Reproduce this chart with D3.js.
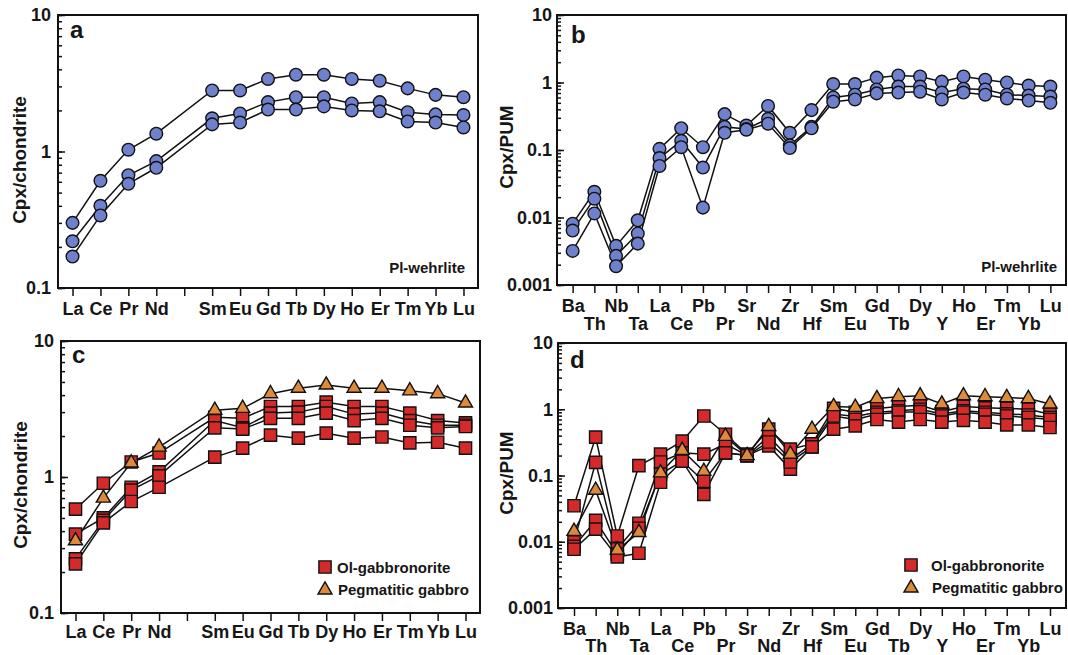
<!DOCTYPE html>
<html>
    <head>
        <meta charset="utf-8">
        <script type="text/javascript" src="https://d3js.org/d3.v7.min.js" charset="utf-8"></script>
        <style>
            body { margin: 0; background: #ffffff; }
            text { font-family: 'Liberation Sans', Arial, sans-serif; font-weight: bold; fill: #161616; }
        </style>
    </head>
    <body>
        <script>
            const WIDTH = 1068;
            const HEIGHT = 655;

            const LINE_COLOR = '#111111';
            const CIRCLE_COLOR = '#6f80cc';
            const SQUARE_COLOR = '#d42a2a';
            const TRIANGLE_COLOR = '#dd8a3a';

            const TICK_FONT = 18;

            // x categories
            const REE_AXIS = ['La', 'Ce', 'Pr', 'Nd', 'Pm', 'Sm', 'Eu', 'Gd', 'Tb', 'Dy', 'Ho', 'Er', 'Tm', 'Yb', 'Lu'];
            const REE = ['La', 'Ce', 'Pr', 'Nd', 'Sm', 'Eu', 'Gd', 'Tb', 'Dy', 'Ho', 'Er', 'Tm', 'Yb', 'Lu'];
            const SPIDER = ['Ba', 'Th', 'Nb', 'Ta', 'La', 'Ce', 'Pb', 'Pr', 'Sr', 'Nd', 'Zr', 'Hf', 'Sm', 'Eu',
                'Gd', 'Tb', 'Dy', 'Y', 'Ho', 'Er', 'Tm', 'Yb', 'Lu'];

            // y tick labels
            const REE_Y_TICKS = [0.1, 1, 10];
            const SPIDER_Y_TICKS = [0.001, 0.01, 0.1, 1, 10];

            // panel a : Pl-wehrlite, Cpx/chondrite
            const wehrliteRee1 = [0.30, 0.61, 1.03, 1.35, 2.8, 2.8, 3.4, 3.65, 3.65, 3.4, 3.3, 2.9, 2.6, 2.5];
            const wehrliteRee2 = [0.22, 0.40, 0.67, 0.85, 1.75, 1.9, 2.3, 2.5, 2.5, 2.25, 2.3, 1.94, 1.87, 1.85];
            const wehrliteRee3 = [0.17, 0.34, 0.58, 0.76, 1.58, 1.63, 2.03, 2.03, 2.14, 2.0, 1.97, 1.66, 1.63, 1.5];

            // panel b : Pl-wehrlite, Cpx/PUM
            const wehrliteSpider1 = [0.0081, 0.024, 0.0038, 0.0091, 0.104, 0.21, 0.11, 0.34, 0.23, 0.45, 0.18, 0.39,
                0.95, 0.95, 1.18, 1.27, 1.23, 1.03, 1.23, 1.1, 1.0, 0.90, 0.87];
            const wehrliteSpider2 = [0.0064, 0.019, 0.0027, 0.0058, 0.076, 0.137, 0.055, 0.22, 0.205, 0.29, 0.117, 0.22,
                0.60, 0.66, 0.79, 0.87, 0.87, 0.71, 0.81, 0.79, 0.66, 0.64, 0.62];
            const wehrliteSpider3 = [0.0032, 0.0115, 0.0019, 0.0041, 0.058, 0.11, 0.014, 0.18, 0.20, 0.245, 0.107, 0.21,
                0.52, 0.56, 0.69, 0.71, 0.73, 0.56, 0.71, 0.66, 0.58, 0.54, 0.50];

            // panel c : Ol-gabbronorite / pegmatitic gabbro, Cpx/chondrite
            const gabbronoriteRee1 = [0.58, 0.90, 1.29, 1.5, 2.75, 2.7, 3.3, 3.3, 3.55, 3.3, 3.3, 2.95, 2.6, 2.5];
            const gabbronoriteRee2 = [0.38, 0.50, 0.84, 1.09, 2.6, 2.3, 2.95, 3.0, 3.3, 2.9, 2.95, 2.6, 2.4, 2.4];
            const gabbronoriteRee3 = [0.25, 0.48, 0.80, 1.02, 2.3, 2.25, 2.7, 2.7, 2.95, 2.6, 2.7, 2.4, 2.3, 2.35];
            const gabbronoriteRee4 = [0.23, 0.46, 0.66, 0.84, 1.4, 1.63, 2.03, 1.93, 2.1, 1.93, 1.97, 1.78, 1.8, 1.63];
            const pegmatiteRee = [0.34, 0.70, 1.27, 1.66, 3.1, 3.2, 4.1, 4.5, 4.75, 4.5, 4.5, 4.3, 4.1, 3.5];

            // panel d : Ol-gabbronorite / pegmatitic gabbro, Cpx/PUM
            const gabbronoriteSpider1 = [0.035, 0.38, 0.0122, 0.141, 0.21, 0.33, 0.79, 0.42, 0.21, 0.5, 0.25, 0.30,
                1.03, 0.90, 1.03, 1.1, 1.15, 0.92, 1.1, 1.05, 1.03, 1.0, 0.84];
            const gabbronoriteSpider2 = [0.0099, 0.158, 0.0078, 0.019, 0.16, 0.22, 0.21, 0.30, 0.20, 0.39, 0.175, 0.30,
                0.85, 0.78, 0.90, 0.95, 1.0, 0.85, 0.95, 0.90, 0.85, 0.82, 0.75];
            const gabbronoriteSpider3 = [0.0085, 0.021, 0.0065, 0.016, 0.105, 0.165, 0.082, 0.22, 0.20, 0.28, 0.125, 0.27,
                0.79, 0.70, 0.84, 0.90, 0.92, 0.79, 0.90, 0.84, 0.79, 0.75, 0.70];
            const gabbronoriteSpider4 = [0.0077, 0.0155, 0.0059, 0.0067, 0.079, 0.165, 0.052, 0.22, 0.20, 0.32, 0.16, 0.27,
                0.50, 0.56, 0.70, 0.64, 0.70, 0.64, 0.68, 0.64, 0.58, 0.58, 0.53];
            const pegmatiteSpider = [0.0144, 0.06, 0.0075, 0.0138, 0.11, 0.24, 0.116, 0.39, 0.20, 0.55, 0.21, 0.50,
                1.1, 1.07, 1.45, 1.55, 1.6, 1.2, 1.6, 1.55, 1.5, 1.45, 1.2];

            const LEGEND_LABELS = ['Ol-gabbronorite', 'Pegmatitic gabbro'];
            const LEGEND_SHAPES = ['square', 'triangle'];

            let svg = d3.select('body')
                .append('svg')
                .attr('width', WIDTH)
                .attr('height', HEIGHT);

            drawPanel({
                letter: 'a', left: 58, right: 478, top: 15, bottom: 288, pad: 0.52,
                axis: REE_AXIS, elements: REE, yTicks: REE_Y_TICKS, labelGap: 7,
                labelRows: [27], title: 'Cpx/chondrite', titleX: 26, titleY: 160,
                letterX: 70, letterY: 38, note: 'Pl-wehrlite', noteX: 465, noteY: 273,
                series: [
                    { shape: 'circle', values: wehrliteRee1 },
                    { shape: 'circle', values: wehrliteRee2 },
                    { shape: 'circle', values: wehrliteRee3 }
                ]
            });

            drawPanel({
                letter: 'b', left: 557, right: 1066, top: 15, bottom: 285, pad: 0.72,
                axis: SPIDER, elements: SPIDER, yTicks: SPIDER_Y_TICKS, labelGap: 5,
                labelRows: [27, 45], title: 'Cpx/PUM', titleX: 513, titleY: 147,
                letterX: 571, letterY: 43, note: 'Pl-wehrlite', noteX: 1057, noteY: 272,
                series: [
                    { shape: 'circle', values: wehrliteSpider1 },
                    { shape: 'circle', values: wehrliteSpider2 },
                    { shape: 'circle', values: wehrliteSpider3 }
                ]
            });

            drawPanel({
                letter: 'c', left: 61, right: 480, top: 341, bottom: 613, pad: 0.52,
                axis: REE_AXIS, elements: REE, yTicks: REE_Y_TICKS, labelGap: 7,
                labelRows: [25], title: 'Cpx/chondrite', titleX: 27, titleY: 485,
                letterX: 72, letterY: 363, legendX: 325, legendY: 567, legendText: 337,
                series: [
                    { shape: 'square', values: gabbronoriteRee1 },
                    { shape: 'square', values: gabbronoriteRee2 },
                    { shape: 'square', values: gabbronoriteRee3 },
                    { shape: 'square', values: gabbronoriteRee4 },
                    { shape: 'triangle', values: pegmatiteRee }
                ]
            });

            drawPanel({
                letter: 'd', left: 558, right: 1066, top: 343, bottom: 608, pad: 0.74,
                axis: SPIDER, elements: SPIDER, yTicks: SPIDER_Y_TICKS, labelGap: 5,
                labelRows: [27, 44], title: 'Cpx/PUM', titleX: 513, titleY: 473,
                letterX: 570, letterY: 368, legendX: 911, legendY: 565, legendText: 931,
                series: [
                    { shape: 'square', values: gabbronoriteSpider1 },
                    { shape: 'square', values: gabbronoriteSpider2 },
                    { shape: 'square', values: gabbronoriteSpider3 },
                    { shape: 'square', values: gabbronoriteSpider4 },
                    { shape: 'triangle', values: pegmatiteSpider }
                ]
            });

            function drawPanel(p)
            {
                let g = svg.append('g');

                let x = d3.scalePoint()
                    .domain(p.axis)
                    .range([p.left, p.right])
                    .padding(p.pad);
                let y = d3.scaleLog()
                    .domain([p.yTicks[0], p.yTicks[p.yTicks.length - 1]])
                    .range([p.bottom, p.top]);

                // y minor + major ticks, pointing inside
                g.append('g')
                    .attr('transform', 'translate(' + p.left + ',0)')
                    .call(d3.axisRight(y).tickValues(y.ticks()).tickSize(4).tickFormat(''))
                    .call(removeDomain);
                g.append('g')
                    .attr('transform', 'translate(' + p.left + ',0)')
                    .call(d3.axisRight(y).tickValues(p.yTicks).tickSize(7).tickFormat(''))
                    .call(removeDomain);
                // y labels
                g.append('g')
                    .attr('transform', 'translate(' + p.left + ',0)')
                    .call(d3.axisLeft(y).tickValues(p.yTicks).tickSize(0).tickPadding(p.labelGap)
                        .tickFormat(function(d){ return String(d); }))
                    .call(removeDomain)
                    .call(styleText, TICK_FONT);

                // x ticks and labels
                let xAxis = g.append('g')
                    .attr('transform', 'translate(0,' + p.bottom + ')')
                    .call(d3.axisBottom(x).tickSize(8)
                        .tickFormat(function(d){ return d == 'Pm' ? '' : d; }))
                    .call(removeDomain)
                    .call(styleText, TICK_FONT);
                xAxis.selectAll('.tick text')
                    .attr('dy', 0)
                    .attr('y', function(d, i){
                        return p.labelRows[i % p.labelRows.length];
                    });

                g.selectAll('.tick line').attr('stroke', LINE_COLOR).attr('stroke-width', 1.5);

                // series lines
                let line = d3.line()
                    .x(function(d){ return x(d.el); })
                    .y(function(d){ return y(d.v); });

                let rows = p.series.map(function(s){
                    return {
                        shape: s.shape,
                        points: s.values.map(function(v, i){ return { el: p.elements[i], v: v }; })
                    };
                });

                g.selectAll('path.series')
                    .data(rows)
                    .enter()
                    .append('path')
                    .attr('class', 'series')
                    .attr('d', function(d){ return line(d.points); })
                    .attr('fill', 'none')
                    .attr('stroke', LINE_COLOR)
                    .attr('stroke-width', 1.5);

                // markers: squares first, then circles / triangles
                ['square', 'circle', 'triangle'].forEach(function(shape){
                    rows.filter(function(r){ return r.shape == shape; }).forEach(function(r){
                        g.selectAll(null)
                            .data(r.points)
                            .enter()
                            .append('path')
                            .attr('transform', function(d){
                                return 'translate(' + x(d.el) + ',' + y(d.v) + ')';
                            })
                            .call(markerStyle, shape);
                    });
                });

                // frame
                g.append('rect')
                    .attr('x', p.left)
                    .attr('y', p.top)
                    .attr('width', p.right - p.left)
                    .attr('height', p.bottom - p.top)
                    .attr('fill', 'none')
                    .attr('stroke', LINE_COLOR)
                    .attr('stroke-width', 2);

                // y title
                g.append('text')
                    .attr('transform', 'translate(' + p.titleX + ',' + p.titleY + ') rotate(-90)')
                    .attr('text-anchor', 'middle')
                    .style('font-size', '19px')
                    .text(p.title);

                // panel letter
                g.append('text')
                    .attr('x', p.letterX)
                    .attr('y', p.letterY)
                    .style('font-size', '24px')
                    .text(p.letter);

                if (p.note) {
                    g.append('text')
                        .attr('x', p.noteX)
                        .attr('y', p.noteY)
                        .attr('text-anchor', 'end')
                        .style('font-size', '15px')
                        .text(p.note);
                }

                if (p.legendX) {
                    let items = LEGEND_LABELS.map(function(label, i){
                        return { label: label, shape: LEGEND_SHAPES[i] };
                    });
                    let leg = g.selectAll('g.legend')
                        .data(items)
                        .enter()
                        .append('g')
                        .attr('class', 'legend')
                        .attr('transform', function(d, i){
                            return 'translate(0,' + (p.legendY + i * 22) + ')';
                        });
                    leg.append('path')
                        .attr('transform', function(d){
                            return 'translate(' + p.legendX + ',' + (d.shape == 'triangle' ? 1 : 0) + ')';
                        })
                        .each(function(d){ d3.select(this).call(markerStyle, d.shape); });
                    leg.append('text')
                        .attr('x', function(d, i){ return p.legendText + i; })
                        .attr('y', 6)
                        .style('font-size', '15px')
                        .text(function(d){ return d.label; });
                }
            }

            function markerStyle(sel, shape)
            {
                if (shape == 'circle') {
                    sel.attr('d', d3.symbol().type(d3.symbolCircle).size(Math.PI * 40))
                        .attr('fill', CIRCLE_COLOR);
                } else if (shape == 'square') {
                    sel.attr('d', d3.symbol().type(d3.symbolSquare).size(150))
                        .attr('fill', SQUARE_COLOR);
                } else {
                    sel.attr('d', d3.symbol().type(d3.symbolTriangle).size(86))
                        .attr('fill', TRIANGLE_COLOR);
                }
                sel.attr('stroke', LINE_COLOR).attr('stroke-width', 1.4);
            }

            function removeDomain(sel)
            {
                sel.select('.domain').remove();
            }

            function styleText(sel, size)
            {
                sel.attr('font-family', null).attr('font-size', null);
                sel.selectAll('text')
                    .attr('fill', null)
                    .style('font-size', size + 'px');
            }
        </script>
    </body>
</html>
